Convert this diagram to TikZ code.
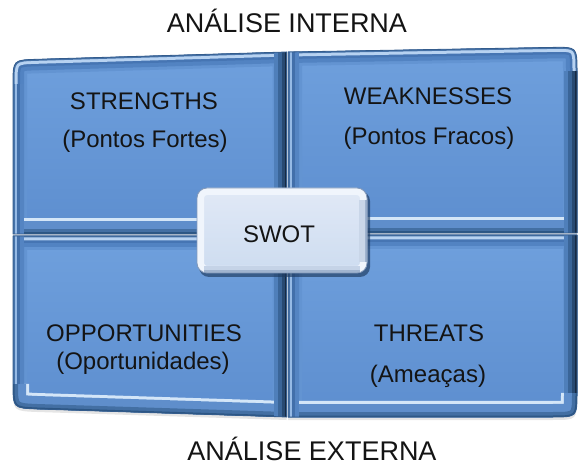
\documentclass[tikz,border=0pt]{standalone}
\usepackage{fontspec}
\setmainfont{Liberation Sans}
\usetikzlibrary{calc}

\definecolor{ink}{HTML}{141414}
\definecolor{faceTop}{HTML}{6FA0DD}
\definecolor{faceBot}{HTML}{5D8ECF}

% One bevelled panel: #1 outline, #2 bottom edge, #3 left edge, #4 right edge
\newcommand{\bevelpanel}[4]{%
  \begin{scope}[shift={(0,3)}]
    \fill[black,opacity=.10] #1;
  \end{scope}
  \begin{scope}
    \clip #1;
    \fill[top color=faceTop,bottom color=faceBot] #1;
    % top / general rim
    \draw[line width=28pt,color={rgb,255:red,99;green,148;blue,210}] #1;
    \draw[line width=22pt,color={rgb,255:red,82;green,131;blue,194}] #1;
    \draw[line width=14pt,color={rgb,255:red,70;green,117;blue,179}] #1;
    \draw[line width=9pt,color={rgb,255:red,183;green,210;blue,241}] #1;
    \draw[line width=3pt,color={rgb,255:red,70;green,114;blue,168}] #1;
    % bottom rim with highlight
    \draw[line width=32pt,color={rgb,255:red,212;green,230;blue,248}] #2;
    \draw[line width=26pt,color={rgb,255:red,95;green,142;blue,203}] #2;
    \draw[line width=10pt,color={rgb,255:red,67;green,111;blue,163}] #2;
    \draw[line width=3pt,color={rgb,255:red,44;green,86;blue,132}] #2;
    % left rim
    \draw[line width=22pt,color={rgb,255:red,84;green,132;blue,194}] #3;
    \draw[line width=14pt,color={rgb,255:red,66;green,111;blue,170}] #3;
    \draw[line width=8pt,color={rgb,255:red,150;green,186;blue,229}] #3;
    \draw[line width=3pt,color={rgb,255:red,70;green,114;blue,168}] #3;
    % right rim, in shadow
    \draw[line width=26pt,color={rgb,255:red,79;green,127;blue,186}] #4;
    \draw[line width=18pt,color={rgb,255:red,58;green,101;blue,152}] #4;
    \draw[line width=10pt,color={rgb,255:red,40;green,74;blue,114}] #4;
    \draw[line width=4pt,color={rgb,255:red,23;green,43;blue,68}] #4;
  \end{scope}
  \draw[line width=.8pt,color={rgb,255:red,52;green,92;blue,140}] #1;
}

\begin{document}
\begin{tikzpicture}[x=1pt,y=-1pt,
  lbl/.style={font=\fontsize{24}{28}\selectfont, text=ink, inner sep=0pt, anchor=base},
  head/.style={font=\fontsize{27}{32}\selectfont, text=ink, inner sep=0pt, anchor=base}]
\useasboundingbox (0,0) rectangle (579,465);

% four quadrants
\bevelpanel{(13,234) -- (13,84) .. controls (13,60) .. (37,59.3) -- (286.5,52) -- (286.5,234) -- cycle}
  {(13,234) -- (286.5,234)}{(13,84) -- (13,234)}{(286.5,52) -- (286.5,234)}
\bevelpanel{(288,233) -- (288,52) -- (553,47.4) .. controls (577,47) .. (577,71) -- (577,233) -- cycle}
  {(288,233) -- (577,233)}{(288,52) -- (288,233)}{(577,71) -- (577,233)}
\bevelpanel{(13,236) -- (286.5,236) -- (286.5,417) -- (37,409) .. controls (13,408) .. (13,384) -- cycle}
  {(13,384) .. controls (13,408) .. (37,409) -- (286.5,417)}{(13,236) -- (13,384)}{(286.5,236) -- (286.5,417)}
\bevelpanel{(288,235) -- (577,235) -- (577,393) .. controls (577,417) .. (553,417) -- (288,417) -- cycle}
  {(288,417) -- (553,417) .. controls (577,417) .. (577,393)}{(288,235) -- (288,417)}{(577,235) -- (577,393)}

% central SWOT key
\fill[color={rgb,255:red,30;green,58;blue,95},opacity=.65,rounded corners=10] (199,191) rectangle (370,277);
\begin{scope}
  \clip[rounded corners=10] (197,188) rectangle (367,273);
  \fill[top color={rgb,255:red,225;green,233;blue,246},bottom color={rgb,255:red,205;green,220;blue,240}] (197,188) rectangle (367,273);
  \draw[line width=14pt,color={rgb,255:red,240;green,245;blue,252},rounded corners=10] (197,188) rectangle (367,273);
  \draw[line width=14pt,color={rgb,255:red,197;green,211;blue,231}] (204,273) -- (360,273);
  \draw[line width=5pt,color={rgb,255:red,160;green,180;blue,207}] (204,273) -- (360,273);
  \draw[line width=16pt,color={rgb,255:red,201;green,214;blue,232}] (367,200) -- (367,262);
  \draw[line width=5pt,color={rgb,255:red,160;green,180;blue,207}] (367,200) -- (367,262);
\end{scope}
\draw[line width=.8pt,color={rgb,255:red,130;green,153;blue,186},rounded corners=10] (197,188) rectangle (367,273);

% labels
\node[head] (interna) at (287,33) {ANÁLISE INTERNA};
\node[head] (externa) at (312,460) {ANÁLISE EXTERNA};
\node[lbl] (str) at (144,110) {STRENGTHS};
\node[lbl] (strpt) at (145,148) {(Pontos Fortes)};
\node[lbl] (wea) at (428,105) {WEAKNESSES};
\node[lbl] (weapt) at (429,145) {(Pontos Fracos)};
\node[lbl] (opp) at (144,342) {OPPORTUNITIES};
\node[lbl] (opppt) at (143,370) {(Oportunidades)};
\node[lbl] (thr) at (429,342) {THREATS};
\node[lbl] (thrpt) at (428,382) {(Ameaças)};
\node[lbl] (swot) at (279,243) {SWOT};
\end{tikzpicture}
\end{document}
